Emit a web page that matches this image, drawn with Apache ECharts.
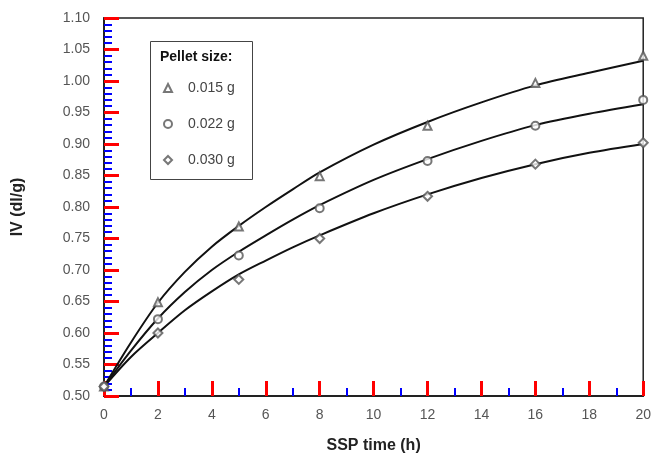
<!DOCTYPE html>
<html>
<head>
<meta charset="utf-8">
<script src="https://cdn.jsdelivr.net/npm/echarts@6/dist/echarts.min.js"></script>
<style>
  html, body { margin: 0; padding: 0; background: #fff; }
  #main { width: 654px; height: 459px; }
</style>
</head>
<body>
<div id="main"></div>
<script>
// measured points
const sspTimes = [0, 2, 5, 8, 12, 16, 20];
const iv015 = [0.515, 0.649, 0.769, 0.849, 0.929, 0.997, 1.040];
const iv022 = [0.515, 0.622, 0.723, 0.798, 0.873, 0.929, 0.970];
const iv030 = [0.515, 0.600, 0.685, 0.750, 0.817, 0.868, 0.902];

// fitted curves
const fitTimes = [0, 1, 2, 3, 4, 5, 6, 7, 8, 10, 12, 14, 16, 18, 20];
const fit015 = [0.515, 0.585, 0.648, 0.697, 0.737, 0.770, 0.800, 0.828, 0.855, 0.899, 0.935, 0.966, 0.993, 1.013, 1.032];
const fit022 = [0.515, 0.572, 0.623, 0.665, 0.700, 0.729, 0.755, 0.780, 0.803, 0.843, 0.876, 0.905, 0.930, 0.948, 0.963];
const fit030 = [0.515, 0.562, 0.600, 0.636, 0.666, 0.693, 0.715, 0.736, 0.755, 0.790, 0.820, 0.846, 0.868, 0.886, 0.900];

const sizeNames = ["0.015 g", "0.022 g", "0.030 g"];
const symbols = ["emptyTriangle", "emptyCircle", "emptyDiamond"];

const pair = (xs, ys) => xs.map((x, i) => [x, ys[i]]);

function pointSeries(name, ys, symbol) {
  return {
    name: name,
    type: "scatter",
    data: pair(sspTimes, ys),
    symbol: symbol,
    symbolSize: symbol === "emptyDiamond" ? 9 : 8,
    itemStyle: { color: "#555", borderWidth: 1 },
    z: 3,
  };
}

function fitSeries(ys) {
  return {
    name: "fit",
    type: "line",
    data: pair(fitTimes, ys),
    smooth: 0.3,
    showSymbol: false,
    lineStyle: { color: "#111", width: 2 },
    z: 2,
    silent: true,
  };
}

const chart = echarts.init(document.getElementById("main"));
chart.setOption({
  animation: false,
  grid: {
    left: 104, right: 9, top: 18, bottom: 63,
    show: true, borderColor: "#222", borderWidth: 1.5,
  },
  legend: {
    data: sizeNames.map((n, i) => ({ name: n, icon: symbols[i] })),
    orient: "vertical",
    left: 158, top: 76,
    itemWidth: 8, itemHeight: 8, itemGap: 22,
    itemStyle: { color: "#555", borderWidth: 1 },
    textStyle: { color: "#444", fontSize: 14, fontFamily: "Liberation Sans", padding: [0, 0, 0, 11] },
  },
  graphic: [
    {
      type: "rect", left: 148, top: 39,
      shape: { width: 102, height: 138 },
      style: { fill: "none", stroke: "#444", lineWidth: 1 },
      z: 1,
    },
    {
      type: "text", left: 160, top: 50,
      style: { text: "Pellet size:", fill: "#111", font: "bold 14px 'Liberation Sans'" },
    },
  ],
  xAxis: {
    type: "value", min: 0, max: 20, interval: 2,
    name: "SSP time (h)", nameLocation: "middle", nameGap: 42,
    nameTextStyle: { color: "#222", fontSize: 16, fontWeight: "bold", fontFamily: "Liberation Sans" },
    axisLine: { show: true, lineStyle: { color: "#222", width: 2 } },
    axisTick: { show: true, inside: true, length: 15, lineStyle: { color: "red", width: 3 } },
    minorTick: { show: true, splitNumber: 2, length: 8, lineStyle: { color: "blue", width: 2 } },
    axisLabel: { color: "#555", fontSize: 14, margin: 12, fontFamily: "Liberation Sans" },
    splitLine: { show: false },
  },
  yAxis: {
    type: "value", min: 0.5, max: 1.1, interval: 0.05,
    name: "IV (dl/g)", nameLocation: "middle", nameGap: 78,
    nameTextStyle: { color: "#222", fontSize: 16, fontWeight: "bold", fontFamily: "Liberation Sans" },
    axisLine: { show: true, lineStyle: { color: "#222", width: 2 } },
    axisTick: { show: true, inside: true, length: 15, lineStyle: { color: "red", width: 3 } },
    minorTick: { show: true, splitNumber: 5, length: 8, lineStyle: { color: "blue", width: 2 } },
    axisLabel: {
      color: "#555", fontSize: 14, margin: 14, fontFamily: "Liberation Sans",
      formatter: (v) => v.toFixed(2),
    },
    splitLine: { show: false },
  },
  series: [
    fitSeries(fit015),
    fitSeries(fit022),
    fitSeries(fit030),
    pointSeries(sizeNames[0], iv015, symbols[0]),
    pointSeries(sizeNames[1], iv022, symbols[1]),
    pointSeries(sizeNames[2], iv030, symbols[2]),
  ],
});
</script>
</body>
</html>
